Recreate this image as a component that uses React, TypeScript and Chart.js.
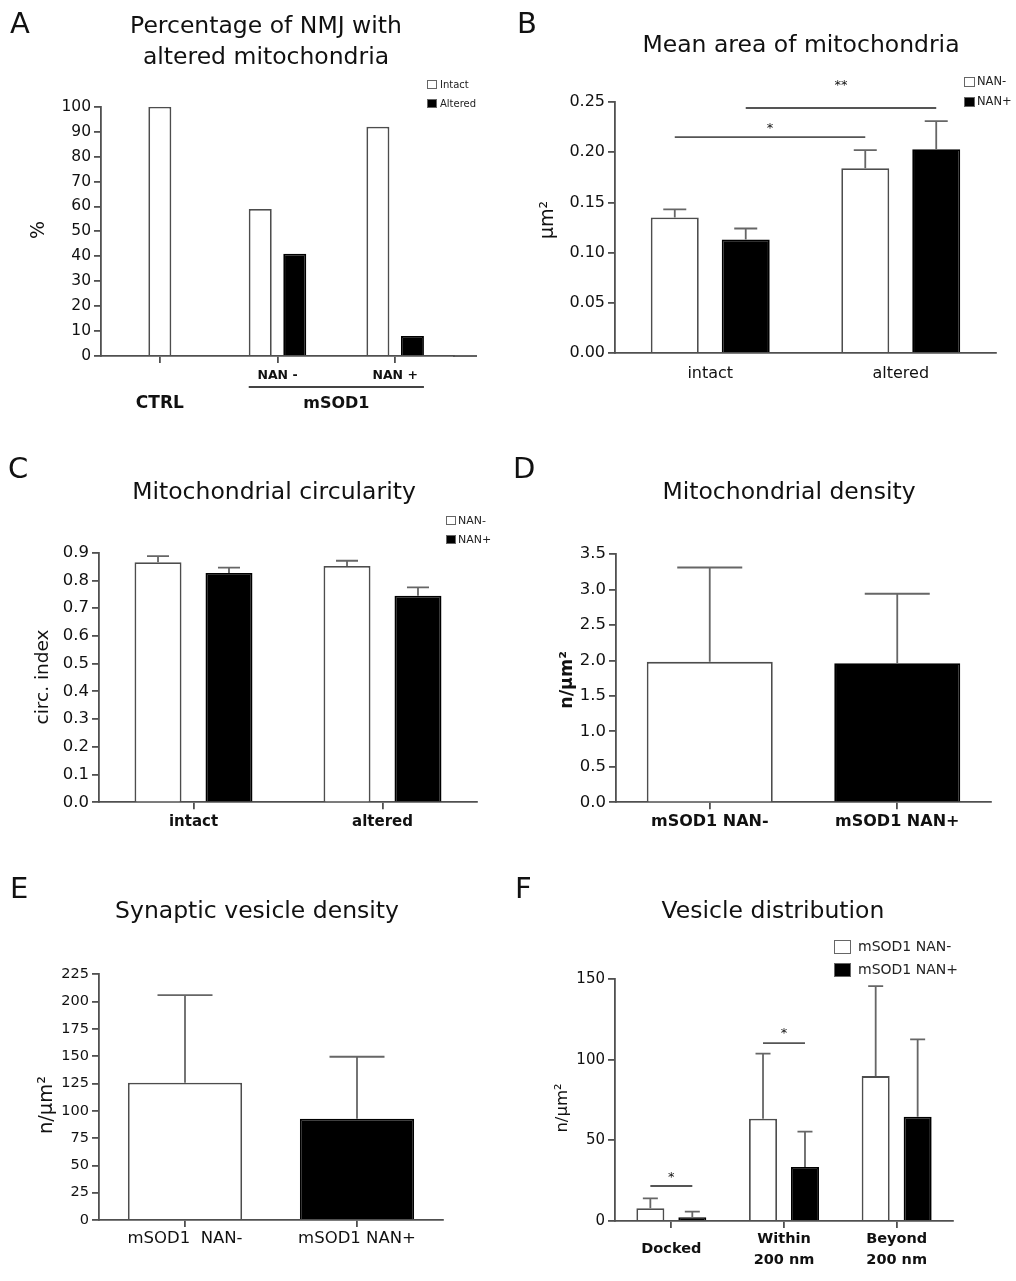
import React, { useEffect, useRef } from 'react';
import { Chart, registerables } from 'chart.js';

Chart.register(...registerables);

const FONT = "'DejaVu Sans', 'Liberation Sans', Arial, sans-serif";
const INK = '#111';
const AXIS = '#505050';
const ERR = '#666';

// ---------------- Panel A ----------------
const aTitle = ['Percentage of NMJ with', 'altered mitochondria'];
const aCategories = ['CTRL', 'NAN -', 'NAN +'];
const aSeries = ['Intact', 'Altered'];
const aIntact = [100, 59, 92];
const aAltered = [null, 41, 8];
const aYTicks = [0, 10, 20, 30, 40, 50, 60, 70, 80, 90, 100];
const aYLabel = '%';
const aGroupLabel = 'mSOD1';

// ---------------- Panel B ----------------
const bTitle = ['Mean area of mitochondria'];
const bCategories = ['intact', 'altered'];
const bSeries = ['NAN-', 'NAN+'];
const bNanMinus = [0.135, 0.184];
const bNanMinusErr = [0.008, 0.018];
const bNanPlus = [0.113, 0.203];
const bNanPlusErr = [0.011, 0.028];
const bYTicks = [0, 0.05, 0.1, 0.15, 0.2, 0.25];
const bYLabel = 'μm²';
const bSig = [
  { from: [0, 0], to: [1, 0], y: 0.215, label: '*', lift: 9 },
  { from: [0, 1], to: [1, 1], y: 0.244, label: '**', lift: 22 },
];

// ---------------- Panel C ----------------
const cTitle = ['Mitochondrial circularity'];
const cCategories = ['intact', 'altered'];
const cSeries = ['NAN-', 'NAN+'];
const cNanMinus = [0.866, 0.852];
const cNanMinusErr = [0.022, 0.019];
const cNanPlus = [0.827, 0.745];
const cNanPlusErr = [0.019, 0.03];
const cYTicks = [0, 0.1, 0.2, 0.3, 0.4, 0.5, 0.6, 0.7, 0.8, 0.9];
const cYLabel = 'circ. index';

// ---------------- Panel D ----------------
const dTitle = ['Mitochondrial density'];
const dCategories = ['mSOD1 NAN-', 'mSOD1 NAN+'];
const dValues = [1.98, 1.96];
const dErr = [1.33, 0.98];
const dYTicks = [0, 0.5, 1, 1.5, 2, 2.5, 3, 3.5];
const dYLabel = 'n/μm²';

// ---------------- Panel E ----------------
const eTitle = ['Synaptic vesicle density'];
const eCategories = ['mSOD1  NAN-', 'mSOD1 NAN+'];
const eValues = [125.7, 92.8];
const eErr = [80.3, 56.7];
const eYTicks = [0, 25, 50, 75, 100, 125, 150, 175, 200, 225];
const eYLabel = 'n/μm²';

// ---------------- Panel F ----------------
const fTitle = ['Vesicle distribution'];
const fCategories = [['Docked'], ['Within', '200 nm'], ['Beyond', '200 nm']];
const fSeries = ['mSOD1 NAN-', 'mSOD1 NAN+'];
const fNanMinus = [7.9, 63.4, 89.8];
const fNanMinusErr = [6.1, 40.3, 55.8];
const fNanPlus = [2.3, 33.5, 64.6];
const fNanPlusErr = [3.5, 21.9, 48];
const fYTicks = [0, 50, 100, 150];
const fYLabel = 'n/μm²';
const fSig = [
  { from: [0, 0], to: [0, 1], y: 21.7, label: '*', lift: 8 },
  { from: [1, 0], to: [1, 1], y: 110.3, label: '*', lift: 9 },
];

const WHITE = { fill: '#ffffff', stroke: '#4d4d4d' };
const BLACK = { fill: '#000000', stroke: '#000000' };

type Panel = any;

function font(size: number, bold = false) {
  return `${bold ? 'bold ' : ''}${size}px ${FONT}`;
}

function decorPlugin(p: Panel) {
  return {
    id: 'decor' + p.letter,
    afterDatasetsDraw(chart: any) {
      const ctx = chart.ctx;
      const ys = chart.scales.y;
      ctx.save();
      ctx.strokeStyle = ERR;
      ctx.lineWidth = 1.8;
      chart.data.datasets.forEach((ds: any, di: number) => {
        if (!ds.errorBars) return;
        const meta = chart.getDatasetMeta(di);
        meta.data.forEach((bar: any, i: number) => {
          const v = ds.data[i];
          const e = ds.errorBars[i];
          if (v == null || e == null) return;
          const x = bar.x;
          const y1 = ys.getPixelForValue(v + e);
          ctx.beginPath();
          ctx.moveTo(x, bar.y);
          ctx.lineTo(x, y1);
          ctx.moveTo(x - p.capWidth / 2, y1);
          ctx.lineTo(x + p.capWidth / 2, y1);
          ctx.stroke();
        });
      });
      ctx.restore();
    },
    afterDraw(chart: any) {
      const ctx = chart.ctx;
      const ys = chart.scales.y;
      const xs = chart.scales.x;
      const area = chart.chartArea;
      ctx.save();
      // panel letter
      ctx.fillStyle = INK;
      ctx.textAlign = 'left';
      ctx.textBaseline = 'alphabetic';
      ctx.font = font(29);
      ctx.fillText(p.letter, p.letterPos[0], p.letterPos[1]);
      // title
      ctx.textAlign = 'center';
      ctx.font = font(23.5);
      p.title.forEach((t: string, i: number) => ctx.fillText(t, p.titleX, p.titleY[i]));
      // y label
      ctx.save();
      ctx.translate(p.yLabelPos[0], p.yLabelPos[1]);
      ctx.rotate(-Math.PI / 2);
      ctx.textAlign = 'center';
      ctx.textBaseline = 'middle';
      ctx.font = font(p.yLabelSize, p.yLabelBold);
      ctx.fillText(p.yLabel, 0, 0);
      ctx.restore();
      // axis extension
      if (p.axisExtend) {
        ctx.strokeStyle = AXIS;
        ctx.lineWidth = 1.8;
        ctx.beginPath();
        ctx.moveTo(area.right - 1, area.bottom);
        ctx.lineTo(area.right + p.axisExtend, area.bottom);
        ctx.stroke();
      }
      // legend
      if (p.legend) {
        const L = p.legend;
        chart.data.datasets.forEach((ds: any, i: number) => {
          const y = L.y + i * L.dy;
          ctx.fillStyle = ds.backgroundColor;
          ctx.fillRect(L.x, y, L.w, L.h);
          ctx.strokeStyle = '#666';
          ctx.lineWidth = 1;
          ctx.strokeRect(L.x + 0.5, y + 0.5, L.w - 1, L.h - 1);
          ctx.fillStyle = '#222';
          ctx.font = font(L.size);
          ctx.textAlign = 'left';
          ctx.textBaseline = 'middle';
          ctx.fillText(ds.label, L.textX, y + L.h / 2 + 0.5);
        });
      }
      // significance
      if (p.sig) {
        p.sig.forEach((s: any) => {
          const a = chart.getDatasetMeta(s.from[1]).data[s.from[0]];
          const b = chart.getDatasetMeta(s.to[1]).data[s.to[0]];
          const y = ys.getPixelForValue(s.y);
          ctx.strokeStyle = '#555';
          ctx.lineWidth = 1.8;
          ctx.beginPath();
          ctx.moveTo(a.x, y);
          ctx.lineTo(b.x, y);
          ctx.stroke();
          ctx.fillStyle = INK;
          ctx.font = font(13);
          ctx.textAlign = 'center';
          ctx.textBaseline = 'middle';
          ctx.fillText(s.label, (a.x + b.x) / 2, y - s.lift);
        });
      }
      if (p.extra) p.extra(chart, ctx, xs, ys);
      ctx.restore();
    },
  };
}

function buildConfig(p: Panel): any {
  const xH = p.H - p.area.b;
  const tickCb = p.xTickCallback || ((_v: any, i: number) => p.categories[i]);
  return {
    type: 'bar',
    data: {
      labels: p.categories,
      datasets: p.datasets.map((ds: any) => ({
        label: ds.label,
        data: ds.data,
        errorBars: ds.errors,
        backgroundColor: ds.fill,
        borderColor: ds.stroke,
        borderWidth: 1.8,
        categoryPercentage: p.catPct,
        barPercentage: p.barPct,
        maxBarThickness: p.maxBar,
        skipNull: !!p.skipNull,
      })),
    },
    options: {
      responsive: false,
      animation: false,
      devicePixelRatio: 1,
      layout: { padding: { left: 0, top: p.area.t, right: p.W - p.area.r, bottom: 0 } },
      plugins: {
        legend: { display: false },
        tooltip: { enabled: false },
        title: { display: false },
      },
      scales: {
        x: {
          type: 'category',
          offset: true,
          grid: {
            display: true,
            drawOnChartArea: false,
            drawTicks: p.xTickLength > 0,
            tickLength: p.xTickLength,
            offset: false,
            color: AXIS,
            lineWidth: 1.8,
          },
          border: { display: true, color: AXIS, width: 1.8 },
          ticks: {
            autoSkip: false,
            maxRotation: 0,
            minRotation: 0,
            color: INK,
            font: { family: FONT, size: p.xFontSize, weight: p.xBold ? 'bold' : 'normal', lineHeight: p.xLineHeight || 1.2 },
            padding: p.xTickPadding,
            crossAlign: p.xCrossAlign || 'near',
            callback: tickCb,
          },
          afterFit: (s: any) => {
            s.height = xH;
          },
        },
        y: {
          type: 'linear',
          min: p.yTicks[0],
          max: p.yTicks[p.yTicks.length - 1],
          afterBuildTicks: (s: any) => {
            s.ticks = p.yTicks.map((v: number) => ({ value: v }));
          },
          grid: {
            display: true,
            drawOnChartArea: false,
            drawTicks: true,
            tickLength: 7,
            color: AXIS,
            lineWidth: 1.8,
          },
          border: { display: true, color: AXIS, width: 1.8 },
          ticks: {
            color: INK,
            font: { family: FONT, size: p.yTickSize },
            padding: 3,
            callback: (v: any) => Number(v).toFixed(p.yDecimals),
          },
          afterFit: (s: any) => {
            s.width = p.area.l;
          },
        },
      },
    },
    plugins: [decorPlugin(p)],
  };
}

const panels: Panel[] = [
  {
    letter: 'A', left: 0, top: 0, W: 508, H: 430,
    area: { l: 101, r: 454, t: 106.7, b: 356 },
    letterPos: [10, 33], title: aTitle, titleX: 266, titleY: [33, 64],
    yLabel: aYLabel, yLabelPos: [39, 230], yLabelSize: 19, yLabelBold: false,
    categories: aCategories,
    datasets: [
      { label: aSeries[0], data: aIntact, ...WHITE },
      { label: aSeries[1], data: aAltered, ...BLACK },
    ],
    yTicks: aYTicks, yDecimals: 0, yTickSize: 15.5,
    xFontSize: 12.5, xBold: true, xTickLength: 7, xTickPadding: 5,
    xTickCallback: (_v: any, i: number) => (i === 0 ? '' : aCategories[i]),
    catPct: 0.587, barPct: 0.68, maxBar: 23, skipNull: true,
    capWidth: 0,
    legend: { x: 427, y: 80, w: 10, h: 9, dy: 19, textX: 440, size: 10 },
    axisExtend: 23,
    extra: (chart: any, ctx: any, xs: any) => {
      ctx.fillStyle = INK;
      ctx.textAlign = 'center';
      ctx.textBaseline = 'alphabetic';
      ctx.font = font(17, true);
      ctx.fillText(aCategories[0], xs.getPixelForValue(0), 408);
      const a = chart.getDatasetMeta(0).data[1];
      const b = chart.getDatasetMeta(1).data[2];
      const x0 = a.x - a.width / 2;
      const x1 = b.x + b.width / 2;
      ctx.strokeStyle = '#444';
      ctx.lineWidth = 1.8;
      ctx.beginPath();
      ctx.moveTo(x0, 387);
      ctx.lineTo(x1, 387);
      ctx.stroke();
      ctx.font = font(16, true);
      ctx.fillText(aGroupLabel, (x0 + x1) / 2, 408);
    },
  },
  {
    letter: 'B', left: 508, top: 0, W: 508, H: 430,
    area: { l: 107, r: 488, t: 102, b: 353 },
    letterPos: [9, 33], title: bTitle, titleX: 293, titleY: [52],
    yLabel: bYLabel, yLabelPos: [40, 220], yLabelSize: 19, yLabelBold: false,
    categories: bCategories,
    datasets: [
      { label: bSeries[0], data: bNanMinus, errors: bNanMinusErr, ...WHITE },
      { label: bSeries[1], data: bNanPlus, errors: bNanPlusErr, ...BLACK },
    ],
    yTicks: bYTicks, yDecimals: 2, yTickSize: 16,
    xFontSize: 16, xBold: false, xTickLength: 0, xTickPadding: 11,
    catPct: 0.745, barPct: 0.676,
    capWidth: 23,
    legend: { x: 456, y: 77, w: 11, h: 10, dy: 20, textX: 469, size: 11.5 },
    sig: bSig,
  },
  {
    letter: 'C', left: 0, top: 430, W: 508, H: 430,
    area: { l: 99, r: 477, t: 122.7, b: 372.3 },
    letterPos: [8, 48], title: cTitle, titleX: 274, titleY: [69],
    yLabel: cYLabel, yLabelPos: [43, 247], yLabelSize: 18.5, yLabelBold: false,
    categories: cCategories,
    datasets: [
      { label: cSeries[0], data: cNanMinus, errors: cNanMinusErr, ...WHITE },
      { label: cSeries[1], data: cNanPlus, errors: cNanPlusErr, ...BLACK },
    ],
    yTicks: cYTicks, yDecimals: 1, yTickSize: 16.5,
    xFontSize: 15, xBold: true, xTickLength: 7, xTickPadding: 3.5,
    catPct: 0.751, barPct: 0.662,
    capWidth: 22,
    legend: { x: 446, y: 86, w: 10, h: 9, dy: 19, textX: 458, size: 11 },
  },
  {
    letter: 'D', left: 508, top: 430, W: 508, H: 430,
    area: { l: 108, r: 483, t: 124, b: 372.3 },
    letterPos: [5, 48], title: dTitle, titleX: 281, titleY: [69],
    yLabel: dYLabel, yLabelPos: [59, 250], yLabelSize: 17.5, yLabelBold: true,
    categories: dCategories,
    datasets: [
      { label: 'density', data: dValues, errors: dErr, fill: [WHITE.fill, BLACK.fill], stroke: [WHITE.stroke, BLACK.stroke] },
    ],
    yTicks: dYTicks, yDecimals: 1, yTickSize: 16.5,
    xFontSize: 16, xBold: true, xTickLength: 7, xTickPadding: 3,
    catPct: 0.84, barPct: 0.8,
    capWidth: 65,
  },
  {
    letter: 'E', left: 0, top: 860, W: 508, H: 421,
    area: { l: 99, r: 443, t: 114.3, b: 360 },
    letterPos: [10, 38], title: eTitle, titleX: 257, titleY: [58],
    yLabel: eYLabel, yLabelPos: [47, 245], yLabelSize: 19.5, yLabelBold: false,
    categories: eCategories,
    datasets: [
      { label: 'density', data: eValues, errors: eErr, fill: [WHITE.fill, BLACK.fill], stroke: [WHITE.stroke, BLACK.stroke] },
    ],
    yTicks: eYTicks, yDecimals: 0, yTickSize: 14.5,
    xFontSize: 16.5, xBold: false, xTickLength: 7, xTickPadding: 1.5,
    catPct: 0.83, barPct: 0.8,
    capWidth: 55,
  },
  {
    letter: 'F', left: 508, top: 860, W: 508, H: 421,
    area: { l: 107, r: 445, t: 119, b: 361 },
    letterPos: [7, 38], title: fTitle, titleX: 265, titleY: [58],
    yLabel: fYLabel, yLabelPos: [55, 248], yLabelSize: 16.5, yLabelBold: false,
    categories: fCategories,
    datasets: [
      { label: fSeries[0], data: fNanMinus, errors: fNanMinusErr, ...WHITE },
      { label: fSeries[1], data: fNanPlus, errors: fNanPlusErr, ...BLACK },
    ],
    yTicks: fYTicks, yDecimals: 0, yTickSize: 15,
    xFontSize: 14.5, xBold: true, xTickLength: 7, xTickPadding: 11, xLineHeight: 1.45, xCrossAlign: 'center',
    catPct: 0.745, barPct: 0.667,
    capWidth: 15,
    legend: { x: 326, y: 80, w: 17, h: 14, dy: 23, textX: 350, size: 14 },
    sig: fSig,
  },
];

function PanelChart({ p }: { p: Panel }) {
  const ref = useRef<HTMLCanvasElement>(null);
  useEffect(() => {
    const canvas = ref.current;
    if (!canvas) return;
    const chart = new Chart(canvas, buildConfig(p));
    return () => chart.destroy();
  }, [p]);
  return (
    <canvas
      ref={ref}
      width={p.W}
      height={p.H}
      style={{ position: 'absolute', left: p.left, top: p.top, width: p.W, height: p.H }}
    />
  );
}

export default function App() {
  return (
    <div style={{ position: 'absolute', left: 0, top: 0, width: 1016, height: 1281, background: '#fff' }}>
      {panels.map((p) => (
        <PanelChart key={p.letter} p={p} />
      ))}
    </div>
  );
}
